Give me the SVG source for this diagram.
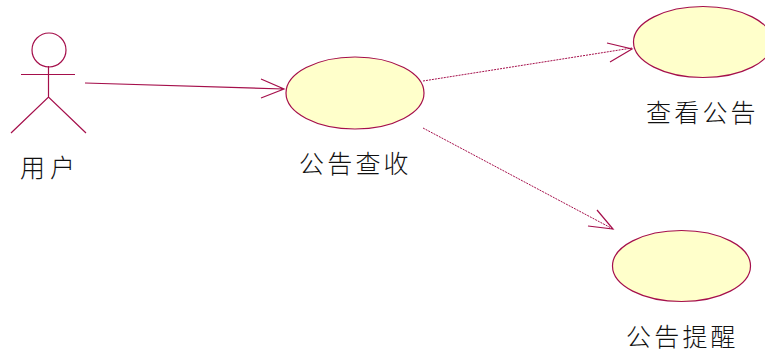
<svg xmlns="http://www.w3.org/2000/svg" width="765" height="356" viewBox="0 0 765 356">
<style>
.l{fill:none;stroke:#a50f4b;stroke-width:1.2}
.d{fill:none;stroke:#a50f4b;stroke-width:1;stroke-dasharray:2 1}
.u{fill:#ffffcb;stroke:#a50f4b;stroke-width:1.2}
text{font-family:"Noto Sans CJK SC",sans-serif;font-size:25px;fill:#111;letter-spacing:3.200px;font-weight:300}
</style>
<rect width="765" height="356" fill="#fff"/>
<g id="connectors">
<path class="l" d="M85 83L284 89M261 79L284 89L261 98"/>
<path class="d" d="M423 81L632 48"/>
<path class="l" d="M607 43L632 49L610 62"/>
<path class="d" d="M423 128L613 229"/>
<path class="l" d="M597 210L613 229L588 226"/>
</g>
<g id="actor-user">
<circle class="l" cx="49" cy="50" r="17"/>
<path class="l" d="M48.500 66V97M21 74.500H75M11 133L48.500 97L86 133"/>
<text x="20" y="177" style="letter-spacing:5px">用户</text>
</g>
<g id="usecase-receive">
<ellipse class="u" cx="355" cy="93" rx="69" ry="36"/>
<text x="299" y="173">公告查收</text>
</g>
<g id="usecase-view">
<ellipse class="u" cx="703" cy="42" rx="69.500" ry="35.500"/>
<text x="646" y="122">查看公告</text>
</g>
<g id="usecase-remind">
<ellipse class="u" cx="681.500" cy="266" rx="69" ry="35.500"/>
<text x="626" y="346">公告提醒</text>
</g>
</svg>
